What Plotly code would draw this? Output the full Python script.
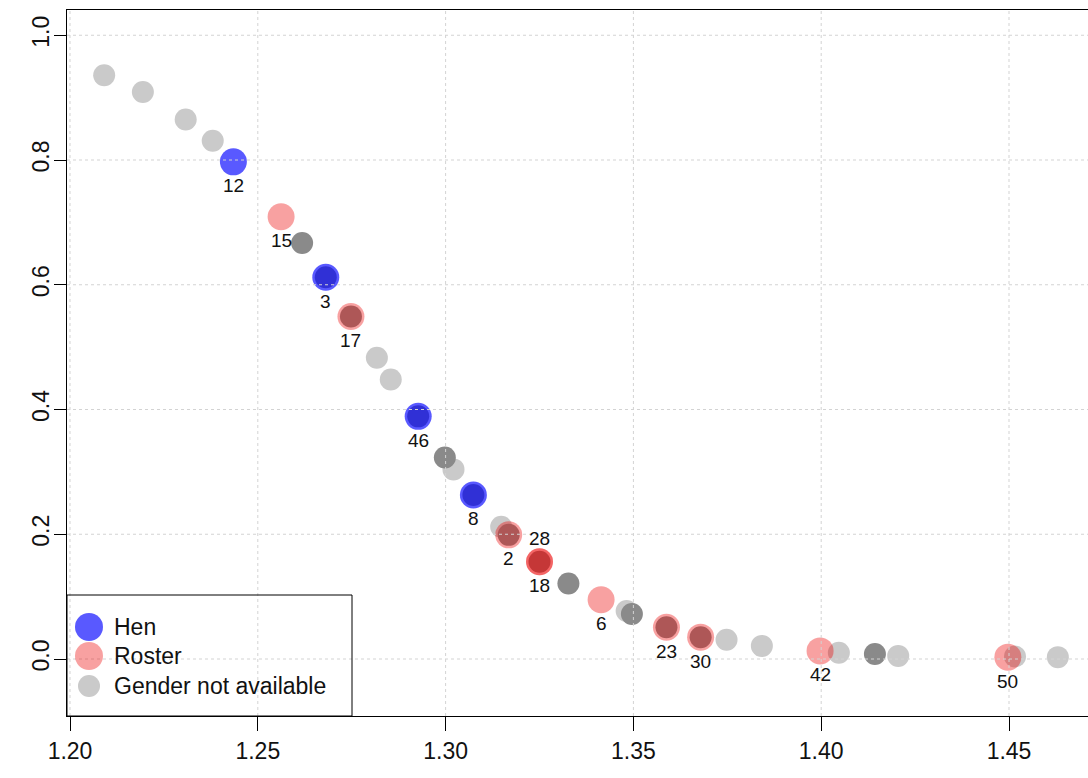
import plotly.graph_objects as go

# ---------------- data ----------------
xticks = [1.20, 1.25, 1.30, 1.35, 1.40, 1.45]
yticks = [0.0, 0.2, 0.4, 0.6, 0.8, 1.0]

# gender not available (light grey)
na_x = [1.2091, 1.2194, 1.2308, 1.2380, 1.2817, 1.2854, 1.3021, 1.3148,
        1.3482, 1.3748, 1.3842, 1.4047, 1.4205, 1.4516, 1.4630]
na_y = [0.936, 0.909, 0.865, 0.831, 0.483, 0.448, 0.304, 0.212,
        0.077, 0.031, 0.021, 0.010, 0.005, 0.004, 0.003]

# second (darker grey) series
dark_x = [1.2618, 1.2681, 1.2748, 1.2927, 1.2998, 1.3074, 1.3168, 1.3250,
          1.3327, 1.3496, 1.3588, 1.3679, 1.4143]
dark_y = [0.667, 0.612, 0.549, 0.389, 0.323, 0.263, 0.199, 0.156,
          0.121, 0.072, 0.051, 0.035, 0.008]

hen_x = [1.2435, 1.2681, 1.2927, 1.3074]
hen_y = [0.797, 0.612, 0.389, 0.263]
hen_lab = ["12", "3", "46", "8"]

roster_x = [1.2562, 1.2748, 1.3168, 1.3250, 1.3250, 1.3414, 1.3588, 1.3679, 1.3997, 1.4497]
roster_y = [0.709, 0.549, 0.199, 0.156, 0.156, 0.095, 0.051, 0.035, 0.013, 0.003]
roster_lab = ["15", "17", "2", "18", "28", "6", "23", "30", "42", "50"]

legend_names = ["Hen", "Roster", "Gender not available"]

# ---------------- styles ----------------
FONT = "Liberation Sans, Arial, sans-serif"
HEN_C = "rgba(0,0,255,0.65)"
ROS_C = "rgba(235,0,0,0.37)"
NA_C = "rgb(202,202,202)"
DARK_C = "rgb(138,138,138)"
GRID_C = "#d3d3d3"
W, H = 1088, 778
ML, MR, MT, MB = 67, 0, 10, 62
PW, PH = W - ML - MR, H - MT - MB

# pixel -> data calibration
x_per_px = 1.0 / 3756.0
y_per_px = 1.0 / 623.75
xr = [xticks[0] - 3 * x_per_px, xticks[0] + (PW - 3) * x_per_px]
yr = [-(H - MB - 659) * y_per_px, (659 - MT) * y_per_px]

fig = go.Figure()
fig.add_trace(go.Scatter(x=na_x, y=na_y, mode="markers", showlegend=False,
                         marker=dict(size=22, color=NA_C, line=dict(width=0))))
fig.add_trace(go.Scatter(x=dark_x, y=dark_y, mode="markers", showlegend=False,
                         marker=dict(size=22, color=DARK_C, line=dict(width=0))))
fig.add_trace(go.Scatter(x=roster_x, y=roster_y, mode="markers", showlegend=False,
                         marker=dict(size=27, color=ROS_C, line=dict(width=0))))
fig.add_trace(go.Scatter(x=hen_x, y=hen_y, mode="markers", showlegend=False,
                         marker=dict(size=27, color=HEN_C, line=dict(width=0))))

# point labels
above = {"28"}
for xs, ys, labs in [(hen_x, hen_y, hen_lab), (roster_x, roster_y, roster_lab)]:
    for x, y, t in zip(xs, ys, labs):
        fig.add_annotation(x=x, y=y, text=t, showarrow=False,
                           yshift=23 if t in above else -24,
                           font=dict(family=FONT, size=19, color="#111"))

shapes = []
# grid (drawn above the points, as in the original)
for xv in xticks:
    shapes.append(dict(type="line", xref="x", yref="paper", x0=xv, x1=xv, y0=0, y1=1,
                       line=dict(color=GRID_C, width=1, dash="3px,3px"), layer="above"))
for yv in yticks:
    shapes.append(dict(type="line", xref="paper", yref="y", x0=0, x1=1, y0=yv, y1=yv,
                       line=dict(color=GRID_C, width=1, dash="3px,3px"), layer="above"))

# manual legend
def px2paper_x(px):
    return (px - ML) / PW

def px2paper_y(py):
    return (H - MB - py) / PH

shapes.append(dict(type="rect", xref="paper", yref="paper",
                   x0=0, x1=px2paper_x(352), y0=0, y1=px2paper_y(595),
                   line=dict(color="black", width=1), fillcolor="rgba(0,0,0,0)",
                   layer="above"))
leg_cols = [HEN_C, ROS_C, NA_C]
leg_sizes = [14, 14, 11]
leg_ys = [627, 656, 686]
for name, col, r, py in zip(legend_names, leg_cols, leg_sizes, leg_ys):
    shapes.append(dict(type="circle", xref="paper", yref="paper",
                       xsizemode="pixel", ysizemode="pixel",
                       xanchor=px2paper_x(89), yanchor=px2paper_y(py),
                       x0=-r, x1=r, y0=-r, y1=r,
                       fillcolor=col, line=dict(width=0), layer="above"))
    fig.add_annotation(xref="paper", yref="paper", x=px2paper_x(112), y=px2paper_y(py),
                       xanchor="left", yanchor="middle", text=name, showarrow=False,
                       font=dict(family=FONT, size=23, color="#111"))

fig.update_layout(
    width=W, height=H,
    margin=dict(l=ML, r=MR, t=MT, b=MB, pad=0),
    paper_bgcolor="white", plot_bgcolor="white",
    shapes=shapes,
    font=dict(family=FONT, size=23, color="#111"),
    xaxis=dict(range=xr, tickvals=xticks, tickformat=".2f", showgrid=False,
               zeroline=False, showline=True, mirror=True, linecolor="black",
               linewidth=1, ticks="outside", ticklen=14, tickcolor="black",
               tickfont=dict(size=23)),
    yaxis=dict(range=yr, tickvals=yticks, tickformat=".1f", showgrid=False,
               zeroline=False, showline=True, mirror=False, linecolor="black",
               linewidth=1, ticks="outside", ticklen=12, tickcolor="black",
               tickangle=-90, tickfont=dict(size=23), ticklabelstandoff=-4),
)

fig.write_html("out.html")
